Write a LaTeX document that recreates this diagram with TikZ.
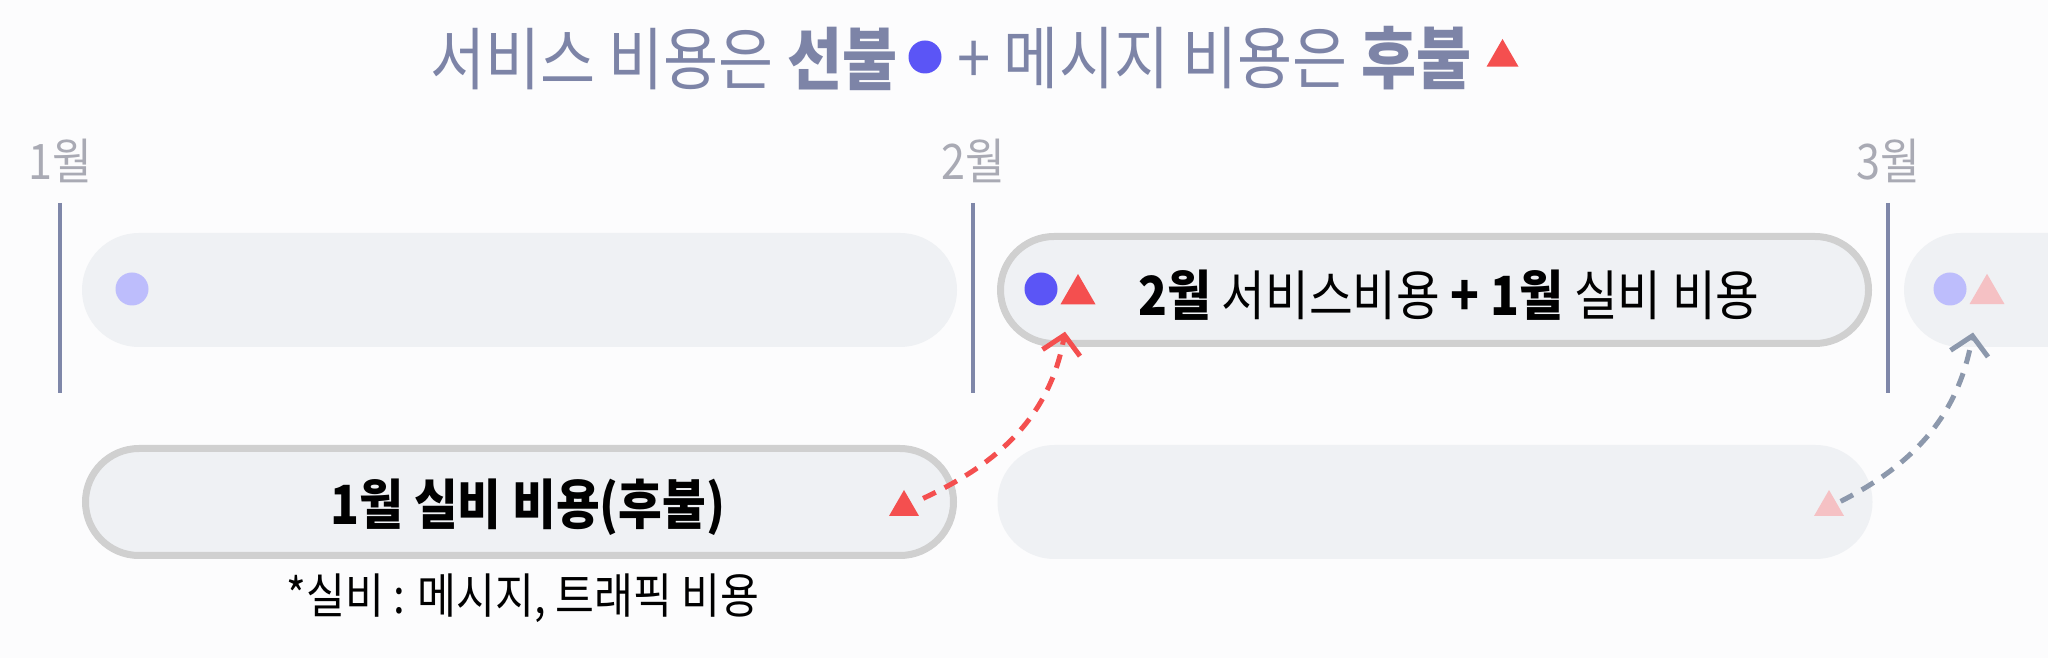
\documentclass[tikz,border=0pt]{standalone}
\usepackage{fontspec}
\setmainfont{Noto Sans CJK KR}[FakeStretch=0.88]
\usetikzlibrary{shapes.misc,shapes.geometric,arrows.meta}

\definecolor{bgwhite}{HTML}{FCFCFD}
\definecolor{pillfill}{HTML}{EFF1F4}
\definecolor{pillrim}{HTML}{D0D0D0}
\definecolor{titlegray}{HTML}{7D84A7}
\definecolor{monthgray}{HTML}{A9AAB4}
\definecolor{lineblue}{HTML}{7F87A9}
\definecolor{prepaid}{HTML}{5B55F6}
\definecolor{postpaid}{HTML}{F44F4F}
\definecolor{prepaidfade}{HTML}{BDBDFC}
\definecolor{postpaidfade}{HTML}{F5C1C4}
\definecolor{linkgray}{HTML}{8C98AC}

\begin{document}
\begin{tikzpicture}[x=0.5pt,y=0.5pt,
	pill/.style={rounded rectangle,fill=pillfill,minimum width=437.5pt,minimum height=57pt,inner sep=0pt},
	rimpill/.style={pill,draw=pillrim,line width=3.5pt,minimum width=434pt,minimum height=53.5pt},
	dot/.style={circle,inner sep=0pt,minimum size=16.5pt},
	bigtri/.style={regular polygon,regular polygon sides=3,inner sep=0pt,minimum size=20.2pt},
	smalltri/.style={regular polygon,regular polygon sides=3,inner sep=0pt,minimum size=17.3pt},
	titletext/.style={inner sep=0pt,text=titlegray,font=\fontsize{34pt}{40pt}\selectfont},
	month/.style={inner sep=0pt,text=monthgray,font=\fontsize{24.5pt}{28pt}\selectfont},
	monthline/.style={draw=lineblue,line width=2pt},
	pilltext/.style={inner sep=0pt,font=\fontsize{27pt}{32pt}\selectfont},
	link/.style={dash pattern=on 7pt off 5pt,line width=2.5pt,-{Straight Barb[length=9pt,width=19pt]}},
	]
	\fill [bgwhite] (0,0) rectangle (2048,658);
	\clip (0,0) rectangle (2048,658);

	% title
	\node [titletext,anchor=east] (ttl1) at (898,599.5) {서비스 비용은 \textbf{선불}};
	\node [dot,fill=prepaid] (ttldot) at (925,601) {};
	\node [titletext,anchor=west] (ttl2) at (957,599.5) {+ 메시지 비용은 \textbf{후불}};
	\node [smalltri,minimum size=18.5pt,fill=postpaid] (ttltri) at (1502.5,600.5) {};

	% months
	\foreach \x/\m in {60/1,973/2,1888/3} {
		\node [month] (m\m) at (\x,497) {\m 월};
		\draw [monthline] (\x,455) -- (\x,265);
	}

	% bars
	\node [pill] (jan) at (519.5,368) {};
	\node [rimpill] (feb) at (1434.5,368) {};
	\node [pill] (mar) at (2341.5,368) {};
	\node [rimpill] (janpost) at (519.5,156) {};
	\node [pill] (febpost) at (1435,156) {};

	\node [dot,fill=prepaidfade] (d1) at (132,369) {};
	\node [dot,fill=prepaid] (d2) at (1041,369) {};
	\node [bigtri,fill=postpaid] (t2) at (1078,363.8) {};
	\node [dot,fill=prepaidfade] (d3) at (1950,369) {};
	\node [bigtri,fill=postpaidfade] (t3) at (1987,364) {};
	\node [smalltri,fill=postpaid] (t4) at (904,150.7) {};
	\node [smalltri,fill=postpaidfade] (t5) at (1829,150.7) {};

	\node [pilltext] (febtext) at (1449,363) {\textbf{2월} 서비스비용 \textbf{+ 1월} 실비 비용};
	\node [pilltext] (jantext) at (528,150.5) {\textbf{1월 실비 비용(후불)}};
	\node [inner sep=0pt,font=\fontsize{24pt}{28pt}\selectfont] (note) at (523,59.5) {*실비 : 메시지, 트래픽 비용};

	% carried over cost
	\coordinate (r2) at ([xshift=-6.5pt,yshift=-13.5pt]t2.south);
	\coordinate (r3) at ([xshift=-7pt,yshift=-14pt]t3.south);
	\draw [link,draw=postpaid,shorten <=6pt] (t4) to [out=25,in=-100] (r2);
	\draw [link,draw=linkgray,shorten <=2pt] (t5) to [out=27,in=-100] (r3);
\end{tikzpicture}
\end{document}
